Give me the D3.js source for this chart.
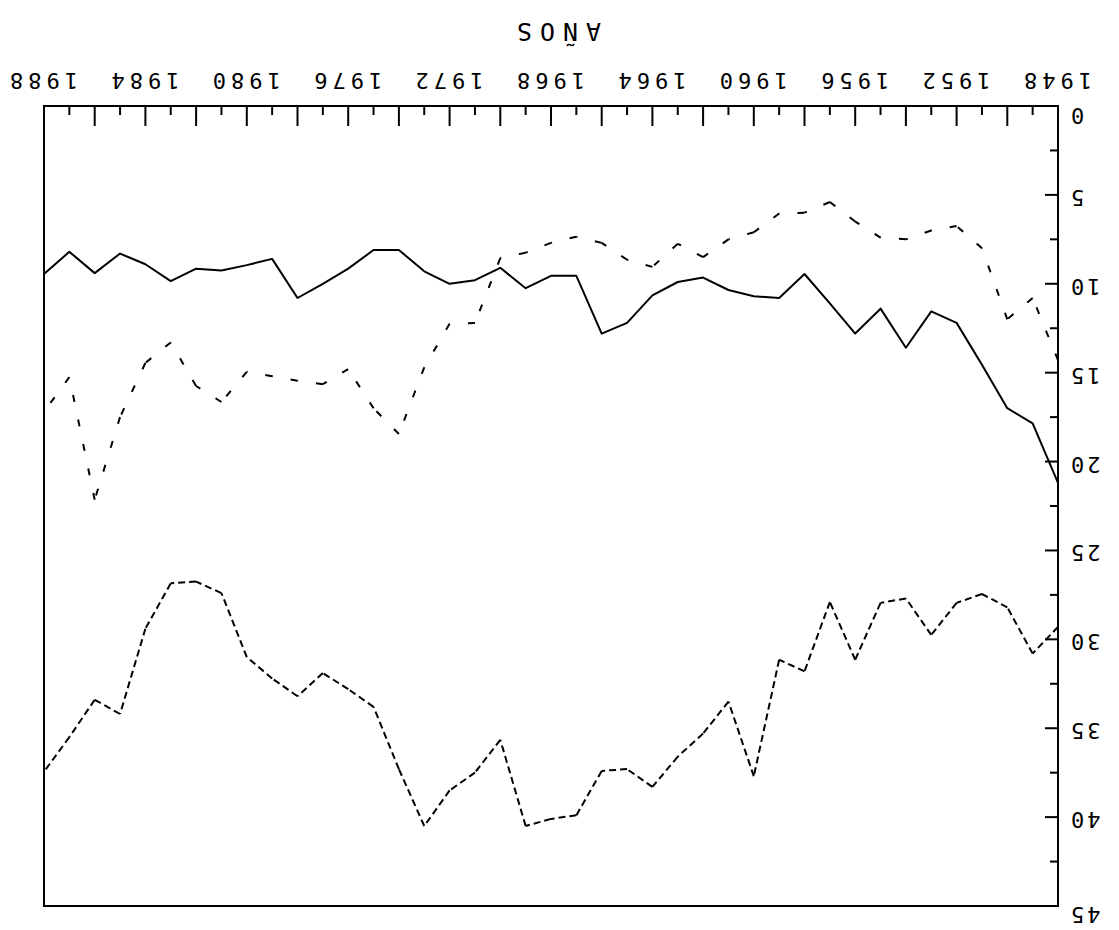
<!DOCTYPE html>
<html>
<head>
<meta charset="utf-8">
<script src="https://cdn.jsdelivr.net/npm/d3@7"></script>
<style>
  html, body { margin: 0; padding: 0; background: #fff; }
  svg { display: block; }
</style>
</head>
<body>
<svg id="chart" width="1119" height="930"></svg>
<script>
// ---- data -------------------------------------------------------------
const years = [1948, 1949, 1950, 1951, 1952, 1953, 1954, 1955, 1956, 1957,
               1958, 1959, 1960, 1961, 1962, 1963, 1964, 1965, 1966, 1967,
               1968, 1969, 1970, 1971, 1972, 1973, 1974, 1975, 1976, 1977,
               1978, 1979, 1980, 1981, 1982, 1983, 1984, 1985, 1986, 1987, 1988];

const seriesSolid = [21.2, 17.85, 17.0, 14.55, 12.2, 11.55, 13.6, 11.4, 12.8, 11.1,
                     9.45, 10.8, 10.7, 10.35, 9.65, 9.9, 10.65, 12.2, 12.8, 9.55,
                     9.55, 10.25, 9.1, 9.8, 10.0, 9.3, 8.1, 8.1, 9.15, 10.0,
                     10.8, 8.6, 8.95, 9.25, 9.15, 9.85, 8.9, 8.3, 9.4, 8.2, 9.45];

const seriesShortDash = [14.3, 10.8, 12.0, 8.0, 6.75, 7.0, 7.5, 7.4, 6.5, 5.4,
                         6.0, 6.05, 7.1, 7.5, 8.5, 7.75, 9.05, 8.65, 7.7, 7.35,
                         7.7, 8.25, 8.55, 12.2, 12.25, 14.7, 18.45, 17.0, 14.8, 15.65,
                         15.45, 15.2, 14.95, 16.65, 15.75, 13.3, 14.45, 17.5, 22.15, 15.25, 17.2];

const seriesLongDash = [29.3, 30.8, 28.2, 27.45, 27.95, 29.75, 27.7, 27.95, 31.15, 27.9,
                        31.8, 31.15, 37.7, 33.5, 35.3, 36.6, 38.3, 37.3, 37.4, 39.9,
                        40.1, 40.5, 35.65, 37.5, 38.5, 40.5, 37.3, 33.8, 32.8, 31.9,
                        33.2, 32.2, 31.0, 27.4, 26.75, 26.85, 29.4, 34.2, 33.4, 35.5, 37.45];

const yearLabels = [1948, 1952, 1956, 1960, 1964, 1968, 1972, 1976, 1980, 1984, 1988];
const valueLabels = [0, 5, 10, 15, 20, 25, 30, 35, 40, 45];
const axisTitle = "AÑOS";

// ---- layout -----------------------------------------------------------
const W = 1119, H = 930;
const plot = { left: 61, right: 1075, top: 24, bottom: 824 };
const FONT = "'DejaVu Sans Mono', 'Liberation Mono', monospace";

const svg = d3.select("#chart");
svg.append("rect").attr("width", W).attr("height", H).attr("fill", "#fff");

// The whole drawing is turned half a revolution about the page centre.
const g = svg.append("g").attr("transform", `rotate(180 ${W / 2} ${H / 2})`);

const x = d3.scaleLinear().domain(d3.extent(years)).range([plot.left, plot.right]);
const y = d3.scaleLinear().domain([0, 45]).range([plot.bottom, plot.top]);

// ---- frame & ticks ----------------------------------------------------
g.append("rect")
  .attr("x", plot.left).attr("y", plot.top)
  .attr("width", plot.right - plot.left).attr("height", plot.bottom - plot.top)
  .attr("fill", "none").attr("stroke", "#000").attr("stroke-width", 2);

// year ticks: every year, longer on even years, pointing into the plot
g.append("g").selectAll("line").data(years).join("line")
  .attr("x1", d => x(d)).attr("x2", d => x(d))
  .attr("y1", plot.bottom).attr("y2", d => plot.bottom - (d % 2 === 0 ? 20 : 9))
  .attr("stroke", "#000").attr("stroke-width", 2);

// value ticks: every 2.5, longer on multiples of 5
const valueTicks = d3.range(0, 45.01, 2.5);
g.append("g").selectAll("line").data(valueTicks).join("line")
  .attr("y1", d => y(d)).attr("y2", d => y(d))
  .attr("x1", plot.left).attr("x2", d => plot.left + (d % 5 === 0 ? 13 : 8))
  .attr("stroke", "#000").attr("stroke-width", 2);

// ---- labels -----------------------------------------------------------
g.append("g").selectAll("text").data(yearLabels).join("text")
  .attr("x", d => x(d) + 2.5)
  .attr("y", plot.bottom + 33)
  .attr("text-anchor", "middle")
  .attr("font-family", FONT).attr("font-size", 22)
  .attr("letter-spacing", 5)
  .attr("fill", "#000")
  .text(d => d);

// the two end labels sit a little off their ticks
const labelShift = v => (v === 0 ? -10 : v === 45 ? -9 : -3);
g.append("g").selectAll("text").data(valueLabels).join("text")
  .attr("x", plot.left - 10)
  .attr("y", d => y(d) + labelShift(d) + 8)
  .attr("text-anchor", "end")
  .attr("font-family", FONT).attr("font-size", 22)
  .attr("letter-spacing", 3)
  .attr("fill", "#000")
  .text(d => d);

g.append("text")
  .attr("x", (plot.left + plot.right) / 2 - 4)
  .attr("y", H - 23)
  .attr("text-anchor", "middle")
  .attr("font-family", FONT).attr("font-size", 25)
  .attr("letter-spacing", 8)
  .attr("fill", "#000")
  .text(axisTitle);

// ---- series -----------------------------------------------------------
const pts = vals => years.map((yr, i) => [x(yr), y(vals[i])]);

g.append("path")
  .attr("d", d3.line()(pts(seriesSolid)))
  .attr("fill", "none").attr("stroke", "#000").attr("stroke-width", 2)
  .attr("stroke-linejoin", "round");

// dashed series: the dash pattern restarts at every data point
function dashedSeries(vals, dash) {
  g.append("g").selectAll("path").data(d3.pairs(pts(vals))).join("path")
    .attr("d", d => d3.line()(d))
    .attr("fill", "none").attr("stroke", "#000").attr("stroke-width", 2)
    .attr("stroke-dasharray", dash);
}
dashedSeries(seriesShortDash, "7,18");
dashedSeries(seriesLongDash, "7,4");
</script>
</body>
</html>
